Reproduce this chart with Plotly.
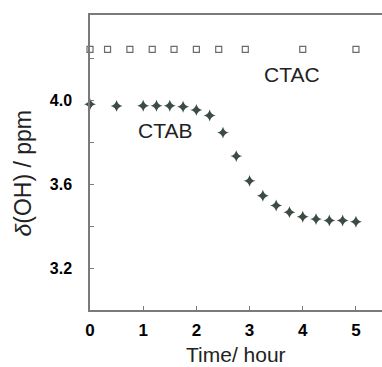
import plotly.graph_objects as go

# Data
ctab_time = [0, 0.5, 1.0, 1.25, 1.5, 1.75, 2.0, 2.25, 2.5, 2.75, 3.0, 3.25, 3.5, 3.75, 4.0, 4.25, 4.5, 4.75, 5.0]
ctab_shift = [3.980, 3.972, 3.973, 3.973, 3.973, 3.968, 3.953, 3.926, 3.845, 3.733, 3.615, 3.544,
              3.498, 3.466, 3.444, 3.433, 3.426, 3.426, 3.420]
ctac_time = [0, 0.33, 0.75, 1.17, 1.58, 2.0, 2.42, 2.92, 4.0, 5.0]
ctac_shift = [4.241] * 10

x_ticks = [0, 1, 2, 3, 4, 5]
y_ticks = [3.2, 3.4, 3.6, 3.8, 4.0, 4.2]
y_ticktext = ["3.2", "", "3.6", "", "4.0", ""]

FONT = "Liberation Sans, Arial, sans-serif"
AX = "#7a7a7a"

fig = go.Figure()
fig.add_trace(go.Scatter(
    x=ctac_time, y=ctac_shift, mode="markers", name="CTAC", cliponaxis=False,
    marker=dict(symbol="square-open", size=6, color="#6b6b6b", line=dict(width=1.2, color="#6b6b6b")),
))
fig.add_trace(go.Scatter(
    x=ctab_time, y=ctab_shift, mode="markers", name="CTAB", cliponaxis=False,
    marker=dict(symbol="star-diamond", size=8.5, color="#3b4c42", line=dict(width=0)),
))

fig.add_annotation(x=3.8, y=4.12, text="CTAC", showarrow=False,
                   font=dict(family=FONT, size=21, color="#222"))
fig.add_annotation(x=1.41, y=3.855, text="CTAB", showarrow=False,
                   font=dict(family=FONT, size=21, color="#222"))
# axis titles
fig.add_annotation(xref="paper", yref="paper", x=-0.229, y=0.463, text="<i>δ</i>(OH) / ppm",
                   textangle=-90, showarrow=False, xanchor="center", yanchor="middle",
                   font=dict(family=FONT, size=23, color="#222"))
fig.add_annotation(xref="paper", yref="paper", x=0.5, y=-0.152, text="Time/ hour",
                   showarrow=False, xanchor="center", yanchor="middle",
                   font=dict(family=FONT, size=21, color="#222"))

fig.update_layout(
    width=382, height=367,
    margin=dict(l=90, r=0, t=15, b=57),
    paper_bgcolor="white", plot_bgcolor="white",
    showlegend=False,
    font=dict(family=FONT, color="#111"),
    xaxis=dict(
        range=[0, 5.49], tickvals=x_ticks, ticktext=[str(v) for v in x_ticks],
        ticks="inside", ticklen=4, tickcolor=AX, tickwidth=1,
        showline=True, linecolor=AX, linewidth=1.5, mirror=True,
        showgrid=False, zeroline=False, automargin=False,
        tickfont=dict(family=FONT, size=17, color="#000", weight="bold"),
        ticklabelstandoff=4,
    ),
    yaxis=dict(
        range=[3.0, 4.405], tickvals=y_ticks, ticktext=y_ticktext,
        ticks="inside", ticklen=4, tickcolor=AX, tickwidth=1,
        showline=True, linecolor=AX, linewidth=1.5, mirror=False,
        showgrid=False, zeroline=False, automargin=False,
        tickfont=dict(family=FONT, size=16, color="#000", weight="bold"),
        ticklabelstandoff=13,
    ),
)

fig.write_html("out.html")
